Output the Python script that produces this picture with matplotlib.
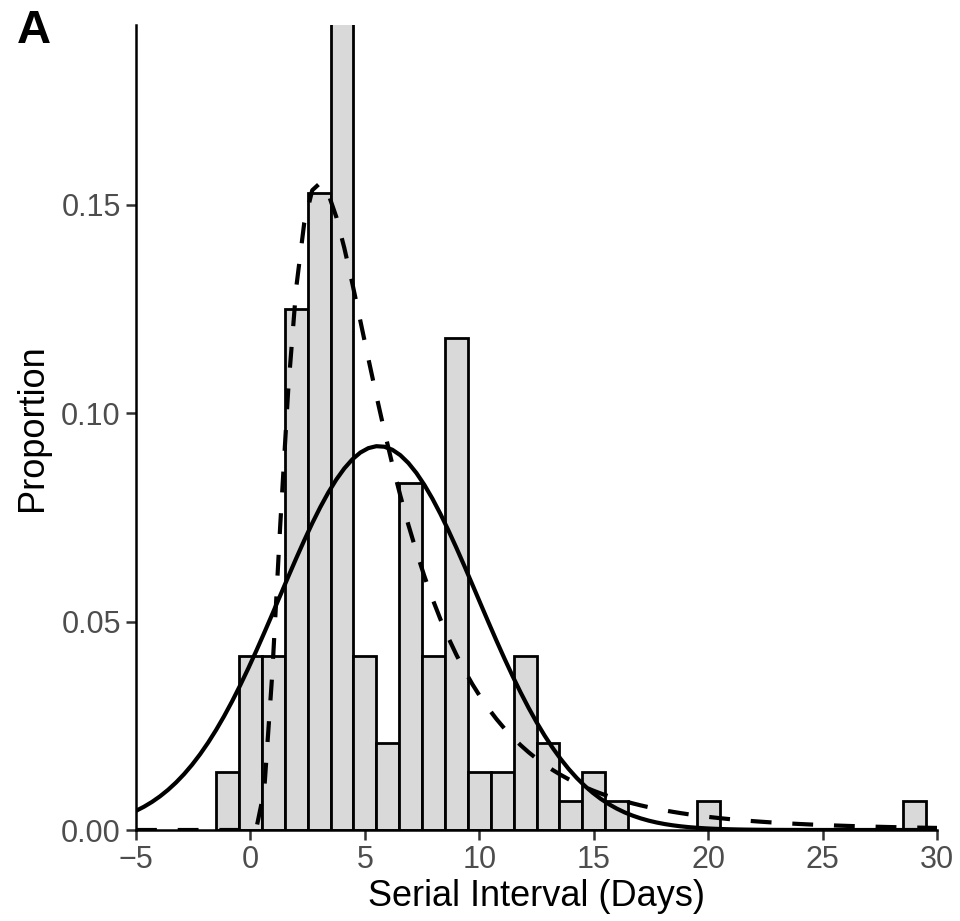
import numpy as np
import matplotlib
matplotlib.use("Agg")
import matplotlib.pyplot as plt

plt.rcParams['font.family'] = ['Liberation Sans', 'DejaVu Sans']

# histogram: serial interval (days) and proportion of pairs
days = [-1, 0, 1, 2, 3, 4, 5, 6, 7, 8, 9, 10, 11, 12, 13, 14, 15, 16, 20, 29]
proportion = [0.0139, 0.0417, 0.0417, 0.125, 0.1528, 0.1944, 0.0417, 0.0208,
              0.0833, 0.0417, 0.1181, 0.0139, 0.0139, 0.0417, 0.0208, 0.0069,
              0.0139, 0.0069, 0.0069, 0.0069]

# fitted distributions
normal_mean, normal_sd = 5.6, 4.33
lognorm_mu, lognorm_sigma = 1.56, 0.68

x = np.linspace(-5, 30, 101)
normal_pdf = np.exp(-0.5 * ((x - normal_mean) / normal_sd) ** 2) / (normal_sd * np.sqrt(2 * np.pi))
xp = np.clip(x, 1e-9, None)
lognorm_pdf = np.where(
    x > 0,
    np.exp(-0.5 * ((np.log(xp) - lognorm_mu) / lognorm_sigma) ** 2) / (xp * lognorm_sigma * np.sqrt(2 * np.pi)),
    0.0)

fig = plt.figure(figsize=(9.6, 9.21), dpi=100)
ax = fig.add_axes([0.1417, 0.0988, 0.8344, 0.8741])

ax.bar(days, proportion, width=1.0, color='#D9D9D9', edgecolor='black', linewidth=2.0, zorder=2)
ax.plot(x, normal_pdf, color='black', linewidth=3.0, zorder=3)
ax.plot(x, lognorm_pdf, color='black', linewidth=3.0, linestyle=(0, (5, 5)), zorder=3)

ax.set_xlim(-5, 30)
ax.set_ylim(0, 0.1932)
ax.set_xticks([-5, 0, 5, 10, 15, 20, 25, 30])
ax.set_xticklabels(['\u22125', '0', '5', '10', '15', '20', '25', '30'])
ax.set_yticks([0, 0.05, 0.10, 0.15])
ax.set_yticklabels(['0.00', '0.05', '0.10', '0.15'])

for side in ['top', 'right']:
    ax.spines[side].set_visible(False)
for side in ['left', 'bottom']:
    ax.spines[side].set_linewidth(1.8)
    ax.spines[side].set_zorder(4)

ax.tick_params(axis='both', direction='out', length=7, width=1.8, color='#333333',
               labelsize=22, labelcolor='#4D4D4D', pad=4)
ax.set_xlabel('Serial Interval (Days)', fontsize=26, labelpad=3)
ax.set_ylabel('Proportion', fontsize=26, labelpad=8)

fig.text(0.018, 0.99, 'A', fontsize=34, fontweight='bold', va='top', ha='left')

fig.savefig('out.png', dpi=100)
